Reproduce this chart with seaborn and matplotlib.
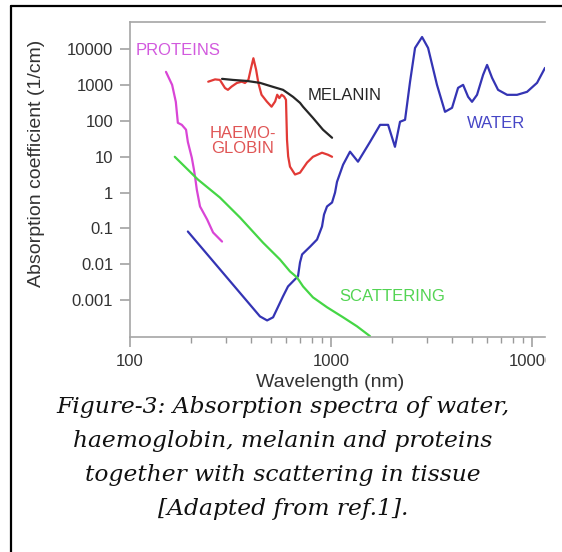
import numpy as np
import pandas as pd
import matplotlib
matplotlib.use("Agg")
import matplotlib.pyplot as plt
import seaborn as sns
from matplotlib.ticker import LogLocator, NullFormatter, NullLocator
from matplotlib.lines import Line2D
from matplotlib.patches import Rectangle

# ---------------- data ----------------
protein_wl = [151, 162, 169, 173, 181, 190, 194, 203, 208, 211, 215, 223, 242, 259, 287]
protein_val = [2350, 1020, 343, 89, 78, 57, 26, 9.4, 4.4, 2.6, 1.2, 0.41, 0.177, 0.077, 0.043]

hb_wl = [245, 265, 280, 297, 307, 320, 340, 360, 373, 388, 400, 411, 424, 435, 451, 479,
         506, 527, 540, 553, 568, 584, 597, 604, 612, 625, 662, 701, 760, 813, 902, 966, 1012]
hb_val = [1250, 1450, 1400, 830, 740, 910, 1150, 1250, 1150, 1400, 3000, 5650, 2700, 1150,
          540, 350, 250, 350, 540, 435, 540, 480, 390, 30, 10.3, 5.3, 3.2, 3.6, 6.9, 10, 13, 11.4, 10]

melanin_wl = [287, 325, 382, 443, 515, 577, 647, 701, 726, 813, 912, 1012]
melanin_val = [1500, 1400, 1310, 1160, 895, 740, 472, 321, 249, 122, 57, 34]

water_wl = [194, 443, 481, 515, 577, 611, 662, 685, 701, 718, 787, 852, 902, 923, 955, 1012,
            1047, 1071, 1148, 1243, 1362, 1563, 1754, 1923, 2080, 2204, 2335, 2472, 2618, 2837,
            3040, 3366, 3690, 4000, 4286, 4540, 4808, 5028, 5325, 5707, 5975, 6327, 6776, 7516,
            8420, 9445, 10590, 11600]
water_val = [0.082, 3.5e-4, 2.7e-4, 3.3e-4, 1.27e-3, 2.4e-3, 3.8e-3, 4.6e-3, 0.0112, 0.0188,
             0.031, 0.049, 0.113, 0.244, 0.41, 0.53, 1.0, 2.0, 6.0, 13.9, 7.3, 26, 78, 78, 19,
             95, 108, 1236, 10940, 22100, 10940, 1020, 180, 233, 841, 1020, 472, 343, 537, 1935,
             3675, 1597, 740, 537, 537, 651, 1160, 3030]

scatter_wl = [167, 218, 280, 353, 459, 557, 625, 677, 726, 813, 955, 1148, 1346, 1563]
scatter_val = [10, 2.3, 0.73, 0.20, 0.040, 0.0136, 0.0063, 0.0043, 0.0024, 0.00119,
               6.3e-4, 3.3e-4, 1.85e-4, 9.8e-5]

series_names = ["PROTEINS", "HAEMOGLOBIN", "MELANIN", "WATER", "SCATTERING"]
series_colors = ["#d945d6", "#e23a36", "#262626", "#3434b4", "#45d645"]

xtick_vals = [100, 1000, 10000]
xtick_labels = ["100", "1000", "10000"]
ytick_vals = [10000, 1000, 100, 10, 1, 0.1, 0.01, 0.001]
ytick_labels = ["10000", "1000", "100", "10", "1", "0.1", "0.01", "0.001"]

caption_lines = ["Figure-3: Absorption spectra of water,",
                 "haemoglobin, melanin and proteins",
                 "together with scattering in tissue",
                 "[Adapted from ref.1]."]

# ---------------- build table ----------------
frames = []
for name, wl, val in zip(series_names,
                         [protein_wl, hb_wl, melanin_wl, water_wl, scatter_wl],
                         [protein_val, hb_val, melanin_val, water_val, scatter_val]):
    frames.append(pd.DataFrame({"wl": wl, "val": val, "series": name}))
df = pd.concat(frames, ignore_index=True)

# ---------------- figure ----------------
sns.set_theme(style="white")
plt.rcParams["font.family"] = ["Liberation Sans", "DejaVu Sans"]

W, H = 562, 552
fig = plt.figure(figsize=(W / 100, H / 100), dpi=100)
fig.patch.set_facecolor("white")
ax = fig.add_axes([130 / W, 1 - 337 / H, 415 / W, 315 / H])
ax.set_facecolor("white")

sns.lineplot(data=df, x="wl", y="val", hue="series", hue_order=series_names,
             palette=dict(zip(series_names, series_colors)), estimator=None,
             sort=False, linewidth=1.6, legend=False, ax=ax)

ax.set_xscale("log")
ax.set_yscale("log")
ax.set_xlim(100, 11600)
ax.set_ylim(9.3e-5, 5.8e4)

ax.set_xticks(xtick_vals, labels=xtick_labels)
ax.xaxis.set_minor_locator(LogLocator(base=10, subs=np.arange(2, 10)))
ax.xaxis.set_minor_formatter(NullFormatter())
ax.set_yticks(ytick_vals, labels=ytick_labels)
ax.yaxis.set_minor_locator(NullLocator())

ax.tick_params(which="both", direction="out", color="#9a9a9a", bottom=True, left=True,
               top=False, right=False)
ax.tick_params(which="major", length=7, width=1.1, labelsize=12, labelcolor="#333333", pad=5)
ax.tick_params(which="minor", length=4, width=1.0)

for s in ["left", "bottom", "top"]:
    ax.spines[s].set_color("#a6a6a6")
    ax.spines[s].set_linewidth(1.2)
ax.spines["right"].set_visible(False)

ax.set_xlabel("Wavelength (nm)", fontsize=14, color="#333333")
ax.xaxis.label.set_va("center")
ax.xaxis.set_label_coords(0.482, -0.146)
ax.set_ylabel("Absorption coefficient (1/cm)", fontsize=14, color="#333333")
ax.yaxis.label.set_va("center")
ax.yaxis.set_label_coords(-0.225, 0.552)

# curve labels
lab = dict(transform=ax.transAxes, ha="center", va="center", fontsize=12)
ax.text(0.1157, 0.911, "PROTEINS", color="#d25ade", **lab)
ax.text(0.518, 0.768, "MELANIN", color="#262626", **lab)
ax.text(0.272, 0.622, "HAEMO-\nGLOBIN", color="#e05555", linespacing=1.0, **lab)
ax.text(0.882, 0.679, "WATER", color="#4646c6", **lab)
ax.text(0.631, 0.127, "SCATTERING", color="#52d452", **lab)

# caption
for i, line in enumerate(caption_lines):
    fig.text(283 / W, 1 - (407 + 34 * i) / H, line, ha="center", va="center",
             fontsize=16.8, style="italic", family=["DejaVu Serif"], color="#111111")

# right crop (the reference is cut at the right)
fig.add_artist(Rectangle((546 / W, 0), 20 / W, 1 - 8 / H, transform=fig.transFigure,
                         facecolor="white", edgecolor="none", zorder=10))
# frame border (left and top)
fig.add_artist(Line2D([10.5 / W, 10.5 / W], [0, 1 - 5.5 / H], transform=fig.transFigure,
                      color="black", lw=1.6, zorder=11))
fig.add_artist(Line2D([10.5 / W, 1], [1 - 5.5 / H, 1 - 5.5 / H], transform=fig.transFigure,
                      color="black", lw=1.6, zorder=11))

fig.savefig("out.png", dpi=100, facecolor="white")
